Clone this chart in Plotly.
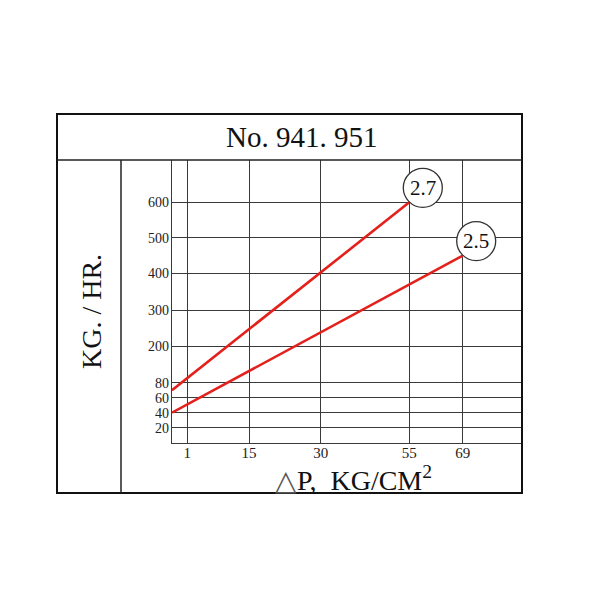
import numpy as np
import plotly.graph_objects as go

# ---- data ----
x_tick_values = [1, 15, 30, 55, 69]
y_tick_values = [20, 40, 60, 80, 200, 300, 400, 500, 600]
series_names = ["2.7", "2.5"]
series_x = [[0, 55], [0, 69]]
series_y = [[70, 600], [40, 450]]

# ---- non-uniform chart scales (value -> axis position) ----
X_SCALE_VAL = [0, 1, 15, 30, 55, 69]
X_SCALE_POS = [0, 15.3, 77, 148.7, 237.3, 290.7]
Y_SCALE_VAL = [0, 20, 40, 60, 80, 200, 300, 400, 500, 600]
Y_SCALE_POS = [0, 15.3, 30.3, 45.3, 60.3, 96.5, 132.5, 169.5, 205.3, 240.7]


def sx(v):
    return np.interp(v, X_SCALE_VAL, X_SCALE_POS)


def sy(v):
    return np.interp(v, Y_SCALE_VAL, Y_SCALE_POS)


OFF = 8  # page body margin
W = H = 600 - OFF
SERIF = "Liberation Serif, Times New Roman, serif"
GRID = "#3a3a3a"
RED = "#e3201b"


def px(x):
    return (x - OFF) / W


def py(y):
    return 1 - (y - OFF) / H


fig = go.Figure()
for name, xs, ys in zip(series_names, series_x, series_y):
    fig.add_trace(go.Scatter(x=sx(xs), y=sy(ys), mode="lines",
                             line=dict(color=RED, width=2.6), name=name,
                             showlegend=False, hoverinfo="skip"))

shapes = []
annotations = []
# circled labels at line ends
for name, xs, ys in zip(series_names, series_x, series_y):
    ax, ay = float(sx(xs[-1])), float(sy(ys[-1]))
    cx, cy, r = 13.5, 14.5, 19.5
    shapes.append(dict(type="circle", xref="x", yref="y", xsizemode="pixel",
                       ysizemode="pixel", xanchor=ax, yanchor=ay,
                       x0=cx - r, x1=cx + r, y0=cy - r, y1=cy + r,
                       fillcolor="white", line=dict(color="#333", width=1.3),
                       layer="above"))
    annotations.append(dict(x=ax, y=ay, xref="x", yref="y", text=name,
                            showarrow=False, xshift=cx, yshift=cy,
                            xanchor="center", yanchor="middle",
                            font=dict(family=SERIF, size=21, color="#111")))

# frame: outer box and separators
shapes.append(dict(type="rect", xref="paper", yref="paper",
                   x0=px(57), x1=px(522), y0=py(493), y1=py(114),
                   line=dict(color="#111", width=2), layer="above"))
shapes.append(dict(type="line", xref="paper", yref="paper",
                   x0=px(57), x1=px(522), y0=py(160), y1=py(160),
                   line=dict(color="#222", width=1.5), layer="above"))
shapes.append(dict(type="line", xref="paper", yref="paper",
                   x0=px(121), x1=px(121), y0=py(160), y1=py(493),
                   line=dict(color="#222", width=1.5), layer="above"))

annotations.append(dict(x=px(301), y=py(137), xref="paper", yref="paper",
                        text="No. 941. 951", showarrow=False,
                        xanchor="center", yanchor="middle",
                        font=dict(family=SERIF, size=29, color="#111")))
annotations.append(dict(x=px(91), y=py(312), xref="paper", yref="paper",
                        text="KG. / HR.", showarrow=False, textangle=-90,
                        xanchor="center", yanchor="middle",
                        font=dict(family=SERIF, size=28, color="#111")))
annotations.append(dict(x=px(353), y=py(478), xref="paper", yref="paper",
                        text="<span style='color:#555'>△</span>P,  KG/CM<sup>2</sup>",
                        showarrow=False, xanchor="center", yanchor="middle",
                        font=dict(family=SERIF, size=28, color="#111")))

fig.update_layout(
    width=W, height=H, margin=dict(l=0, r=0, t=0, b=0),
    paper_bgcolor="white", plot_bgcolor="white",
    shapes=shapes, annotations=annotations,
    xaxis=dict(domain=[px(172), px(522)], range=[0, 350],
               tickvals=sx(x_tick_values), ticktext=[str(v) for v in x_tick_values],
               showgrid=True, gridcolor=GRID, gridwidth=1.3, zeroline=False,
               showline=True, linecolor=GRID, linewidth=1.3,
               ticks="", ticklabelstandoff=-4,
               tickfont=dict(family=SERIF, size=15, color="#222"),
               fixedrange=True),
    yaxis=dict(domain=[py(443), py(160)], range=[0, 283],
               tickvals=sy(y_tick_values), ticktext=[str(v) for v in y_tick_values],
               showgrid=True, gridcolor=GRID, gridwidth=1.3, zeroline=False,
               showline=True, linecolor=GRID, linewidth=1.3,
               ticks="", ticklabelstandoff=-1,
               tickfont=dict(family=SERIF, size=14, color="#222"),
               fixedrange=True),
)

fig.write_html("out.html")
